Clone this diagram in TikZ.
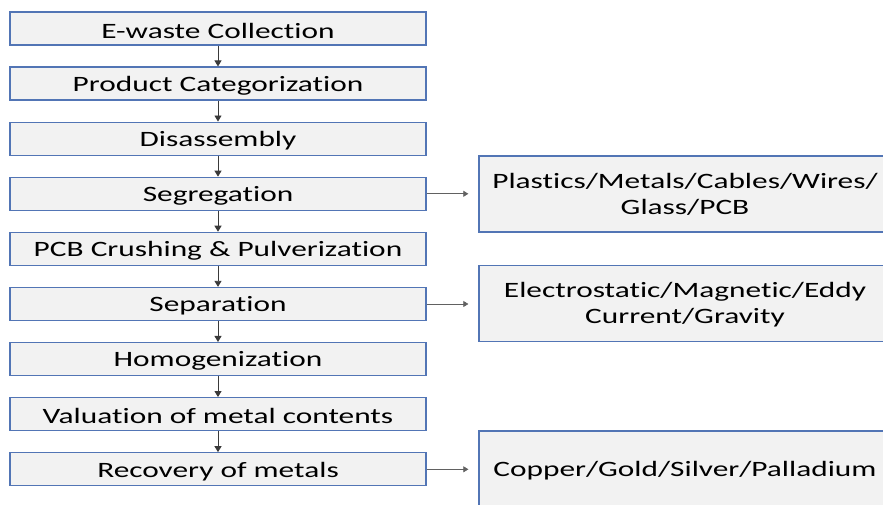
\documentclass[tikz,border=0pt]{standalone}
\usepackage{fontspec}
\setmainfont{Carlito}[Ligatures={NoCommon}]
\usepackage{graphicx}
\usetikzlibrary{arrows.meta}
\definecolor{boxfill}{HTML}{F2F2F2}
\definecolor{boxline}{HTML}{5275B5}
\definecolor{arr}{HTML}{3A3A3A}
\newcommand{\stx}[1]{\raisebox{-2bp}[\height][\depth]{\scalebox{1.43}[1]{#1}}}
\tikzset{
  stepbox/.style={draw=boxline, line width=1.3bp, fill=boxfill, minimum width=416bp, minimum height=33bp, inner sep=0pt, font=\fontsize{22}{26}\selectfont},
  outbox/.style={draw=boxline, line width=1.3bp, fill=boxfill, minimum width=412bp, minimum height=76bp, inner sep=0pt, font=\fontsize{22}{26}\selectfont},
  flow/.style={draw=arr, line width=0.9bp, -{Triangle[width=7bp,length=6bp]}},
  side/.style={draw=arr!80, line width=0.7bp, -{Triangle[width=6bp,length=5bp]}, shorten >=10bp}
}
\begin{document}
\begin{tikzpicture}[x=1bp,y=-1bp]
\useasboundingbox (0,0) rectangle (883,505);
\clip (0,0) rectangle (883,505);
\node[stepbox] (s1) at (218,28.5) {\stx{E-waste Collection}};
\node[stepbox] (s2) at (218,83.6) {\stx{Product Categorization}};
\node[stepbox] (s3) at (218,138.7) {\stx{Disassembly}};
\node[stepbox] (s4) at (218,193.8) {\stx{Segregation}};
\node[stepbox] (s5) at (218,248.9) {\stx{PCB Crushing \& Pulverization}};
\node[stepbox] (s6) at (218,304) {\stx{Separation}};
\node[stepbox] (s7) at (218,359.1) {\stx{Homogenization}};
\node[stepbox] (s8) at (218,414.2) {\stx{Valuation of metal contents}};
\node[stepbox] (s9) at (218,469.3) {\stx{Recovery of metals}};
\node[outbox] (o1) at (685,194) {\stx{\begin{tabular}{@{}c@{}}Plastics/Metals/Cables/Wires/\\Glass/PCB\end{tabular}}};
\node[outbox] (o2) at (685,303.5) {\stx{\begin{tabular}{@{}c@{}}Electrostatic/Magnetic/Eddy\\Current/Gravity\end{tabular}}};
\node[outbox] (o3) at (685,469) {\stx{Copper/Gold/Silver/Palladium}};
\foreach \a/\b in {s1/s2,s2/s3,s3/s4,s4/s5,s5/s6,s6/s7,s7/s8,s8/s9}
  \draw[flow] (\a.south) -- (\b.north);
\draw[side] (s4.east) -- (s4.east -| o1.west);
\draw[side] (s6.east) -- (s6.east -| o2.west);
\draw[side] (s9.east) -- (s9.east -| o3.west);
\end{tikzpicture}
\end{document}
